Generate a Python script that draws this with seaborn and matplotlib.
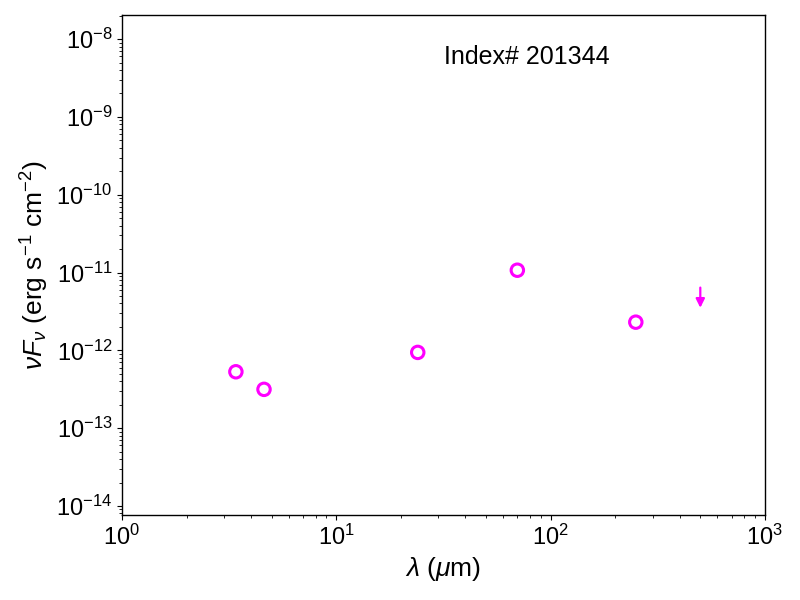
import matplotlib
matplotlib.use('Agg')
import numpy as np
import pandas as pd
import seaborn as sns
import matplotlib.pyplot as plt

# photometry (wavelength in micron, nuFnu in erg/s/cm^2)
wave = [3.4, 4.6, 24.0, 70.0, 250.0]
nufnu = [5.3e-13, 3.15e-13, 9.4e-13, 1.07e-11, 2.3e-12]

# upper limit
wave_ul = [500.0]
nufnu_ul = [6.4e-12]

label = 'Index# 201344'
color = 'magenta'

sns.set_style('ticks', {'axes.edgecolor': 'black', 'xtick.color': 'black',
                        'ytick.color': 'black', 'text.color': 'black',
                        'axes.labelcolor': 'black'})
plt.rcParams['font.family'] = ['Liberation Sans', 'DejaVu Sans']
plt.rcParams['mathtext.fontset'] = 'custom'
plt.rcParams['mathtext.rm'] = 'Liberation Sans'
plt.rcParams['mathtext.it'] = 'Liberation Sans:italic'
plt.rcParams['mathtext.bf'] = 'Liberation Sans:bold'
plt.rcParams['axes.linewidth'] = 1.0
for a in ('xtick', 'ytick'):
    plt.rcParams[a + '.major.size'] = 3.5
    plt.rcParams[a + '.minor.size'] = 2.0
    plt.rcParams[a + '.major.width'] = 0.8
    plt.rcParams[a + '.minor.width'] = 0.6

df = pd.DataFrame({'wave': wave, 'nufnu': nufnu})

fig = plt.figure(figsize=(8, 6), dpi=100)
ax = fig.add_axes([0.1525, 0.1417, 0.8035, 0.8333])

sns.scatterplot(data=df, x='wave', y='nufnu', ax=ax, marker='o', s=80,
                facecolor='none', edgecolor=color, linewidth=2.2, zorder=3)

# upper limit drawn as a downward arrow from the limit value
for xu, yu in zip(wave_ul, nufnu_ul):
    ax.annotate('', xy=(xu, yu * 0.55), xytext=(xu, yu),
                arrowprops=dict(arrowstyle='-|>', color=color, lw=1.6,
                                mutation_scale=13, shrinkA=0, shrinkB=0))

ax.set_xscale('log')
ax.set_yscale('log')
ax.set_xlim(1, 1e3)
ax.set_ylim(7.65e-15, 2.04e-8)

ax.set_xlabel(r'$\lambda$ ($\mu$m)', fontsize=19)
ax.set_ylabel(r'$\nu F_\nu$ (erg s$^{-1}$ cm$^{-2}$)', fontsize=19)
ax.tick_params(axis='both', which='major', labelsize=17)
ax.tick_params(axis='both', which='both', color='black', labelcolor='black')

ax.text(0.63, 0.915, label, transform=ax.transAxes, fontsize=18,
        ha='center', va='center', color='black')

fig.savefig('out.png', dpi=100)
